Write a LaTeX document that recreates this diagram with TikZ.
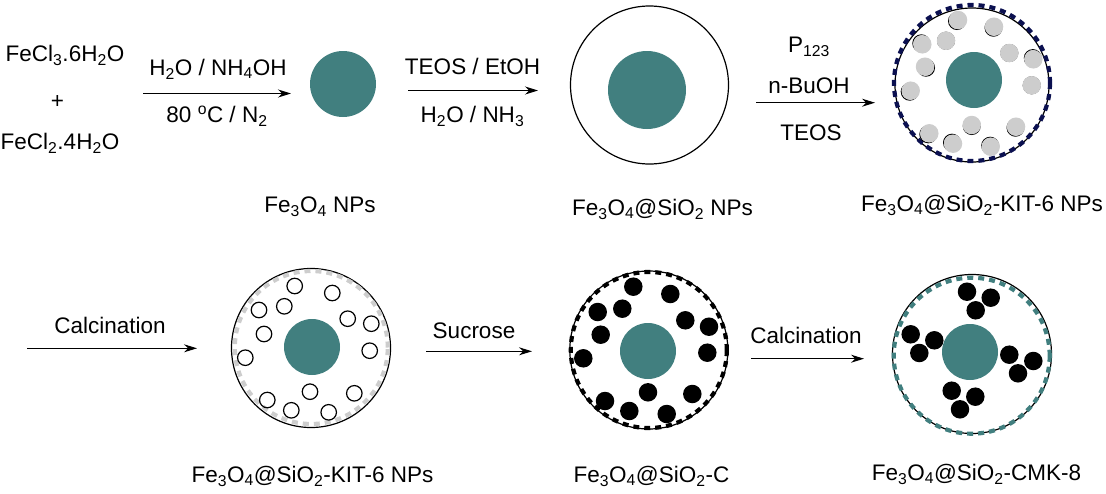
\documentclass[tikz,border=0pt]{standalone}
\usepackage{fontspec}
\setmainfont{Liberation Sans}
\usetikzlibrary{arrows.meta}
\definecolor{coreteal}{HTML}{417F7F}
\definecolor{shellnavy}{HTML}{0B1050}
\definecolor{poregray}{HTML}{CDCDCD}
\newcommand{\FeSi}{Fe\textsubscript{3}O\textsubscript{4}@SiO\textsubscript{2}}
\tikzset{
	every node/.style={inner sep=0pt,font=\fontsize{22.5}{27}\selectfont},
	core/.style={circle,fill=coreteal,minimum size=#1},
	shell/.style={circle,draw=black,line width=1.2pt,minimum size=#1},
	ring/.style={circle,draw=#1,line width=4.2pt,dash pattern=on 6pt off 5pt,minimum size=156pt},
	pore/.style={circle,fill=poregray,minimum size=18.5pt},
	porerim/.style={circle,draw=black,line width=1pt,minimum size=17pt},
	opened/.style={circle,draw=black,line width=1.2pt,minimum size=15.5pt},
	filled/.style={circle,fill=black,minimum size=18.5pt},
	rxn/.style={-{Stealth[length=13pt,width=8pt]},line width=1.1pt}
}
\begin{document}
\begin{tikzpicture}[x=1pt,y=-1pt]
		\useasboundingbox (0,0) rectangle (1106,493);
		
		% reagents and labels
		\node (feiii) at (65,55) {FeCl\textsubscript{3}.6H\textsubscript{2}O};
		\node (plus) at (57.5,102) {+};
		\node (feii) at (60,143) {FeCl\textsubscript{2}.4H\textsubscript{2}O};
		\node (t1a) at (218,69) {H\textsubscript{2}O / NH\textsubscript{4}OH};
		\node (t1b) at (217,116) {80 \textsuperscript{o}C / N\textsubscript{2}};
		\node (t2a) at (472.5,66) {TEOS / EtOH};
		\node (t2b) at (472.5,116) {H\textsubscript{2}O / NH\textsubscript{3}};
		\node (t3a) at (809,47) {P\textsubscript{123}};
		\node (t3b) at (809,86) {n-BuOH};
		\node (t3c) at (811,132.5) {TEOS};
		\node (t4) at (110,325) {Calcination};
		\node (t5) at (474,331) {Sucrose};
		\node (t6) at (806,335) {Calcination};
		\node (l1) at (320,207) {Fe\textsubscript{3}O\textsubscript{4} NPs};
		\node (l2) at (662.5,209) {\FeSi{} NPs};
		\node (l3) at (982,205) {\FeSi{}-KIT-6 NPs};
		\node (l4) at (312.5,476) {\FeSi{}-KIT-6 NPs};
		\node (l5) at (651.5,476) {\FeSi{}-C};
		\node (l6) at (976.5,474) {\FeSi{}-CMK-8};
		
		% arrows
		\coordinate (a1) at (143,93.5);
		\coordinate (b1) at (291,93.5);
		\coordinate (a2) at (408,90.5);
		\coordinate (b2) at (538,90.5);
		\coordinate (a3) at (756,102.7);
		\coordinate (b3) at (875,102.7);
		\coordinate (a4) at (27,348.3);
		\coordinate (b4) at (197,348.3);
		\coordinate (a5) at (426,351.3);
		\coordinate (b5) at (532,351.3);
		\coordinate (a6) at (751,358.7);
		\coordinate (b6) at (864,358.7);
		\foreach \i in {1,...,6}
			\draw[rxn] (a\i) -- (b\i);
		
		% plain particles
		\node[core=66pt] (np1) at (343,84) {};
		\node[shell=158pt] (sh2) at (649.5,85) {};
		\node[core=78pt] (np2) at (647,90) {};
		
		% KIT-6
		\node[shell=154pt] (sh3) at (972,85) {};
		\node[ring=shellnavy] (rg3) at (972,83) {};
		\foreach \x/\y/\dx/\dy [count=\n] in {958/20/-1/1,994/26.7/-.5/1,946/40.7/0/0,922.3/44.3/-1/-1,1009.3/53/0/0,1033.3/59.3/-.5/-1.2,925/66.7/1/1,1031.7/85.3/0/0,910.7/90.7/-1/1,971.7/125/0/1,1016/126.7/-.5/1,929.3/133.3/-1/1,953/143.7/-1/-1,990.7/146.7/-.5/-1}{
			\node[porerim] (rm\n) at (\x+\dx,\y+\dy) {};
			\node[pore] (pr\n) at (\x,\y) {};
		}
		\node[core=56pt] (np3) at (974,80) {};
		
		% calcined
		\node[shell=159pt] (sh4) at (311,348) {};
		\node[ring=poregray,minimum size=153pt] (rg4) at (311.3,347.5) {};
		\foreach \x/\y [count=\n] in {294.7/286,332.3/293,284.3/306.3,259/310,347.7/318.7,371.3/323.7,264/334,369.7/350.7,245.3/357.7,310/391.7,354.3/393.3,267.3/400,291.3/410.3,328.7/412.3}
			\node[opened] (op\n) at (\x,\y) {};
		\node[core=56pt] (np4) at (312,347) {};
		
		% carbon filled
		\node[shell=158pt] (sh5) at (648.8,350) {};
		\node[ring=black] (rg5) at (648.8,350) {};
		\foreach \x/\y [count=\n] in {633.3/286.7,670.3/294,622.3/308.7,597.7/312,685.3/320.3,709/326.7,600.7/334.7,707.3/352.7,583.3/358.3,648/392.3,692.3/394,605/401,629.3/411,666.7/414}
			\node[filled] (cb\n) at (\x,\y) {};
		\node[core=56pt] (np5) at (648,351) {};
		
		% CMK-8
		\node[shell=159pt] (sh6) at (972,354) {};
		\node[ring=coreteal] (rg6) at (971.7,355.7) {};
		\foreach \x/\y [count=\n] in {967/291.7,990.7/297.7,975.7/310.3,910.7/334.3,934.3/340.3,919.3/353,1009.3/354.7,1033.3/361,1018/373.3,951.7/390.7,975.3/396.7,960/409.3}
			\node[filled] (ck\n) at (\x,\y) {};
		\node[core=56pt] (np6) at (970,352) {};
\end{tikzpicture}
\end{document}
